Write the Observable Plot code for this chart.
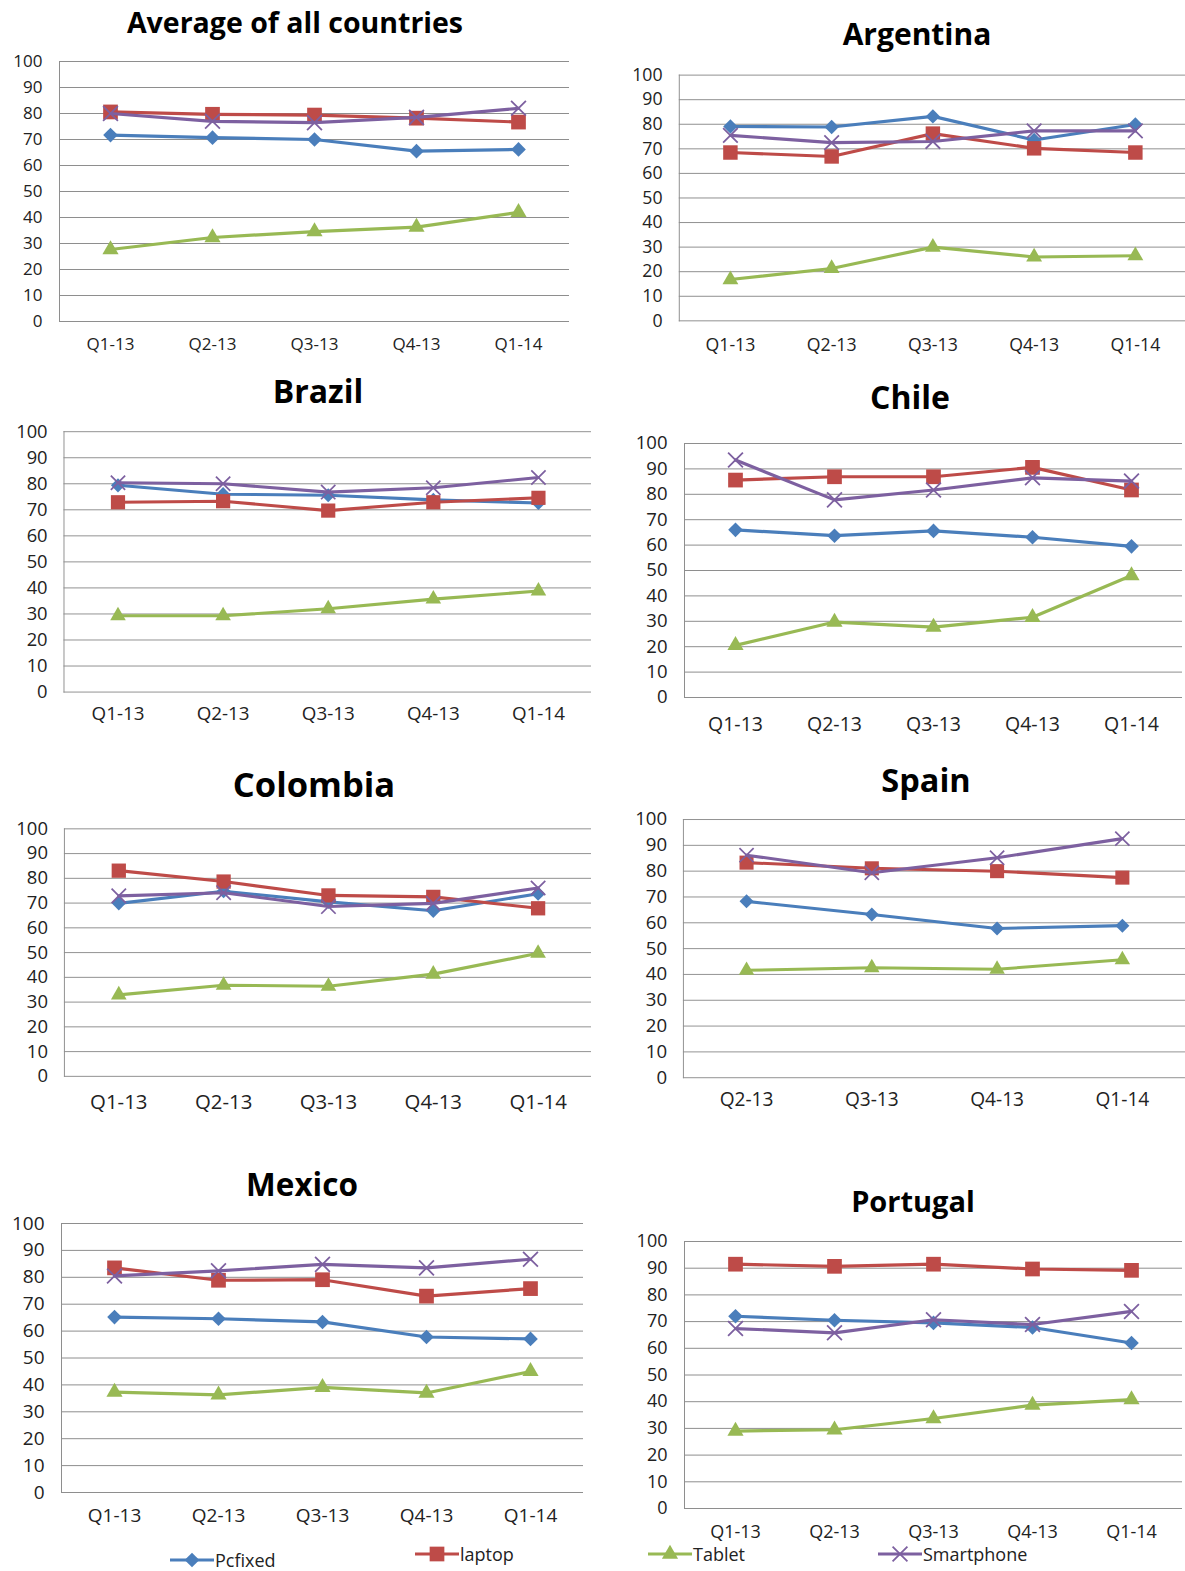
<!DOCTYPE html>
<html><head><meta charset="utf-8">
<script src="https://cdn.jsdelivr.net/npm/d3@7"></script>
<script src="https://cdn.jsdelivr.net/npm/@observablehq/plot@0.6"></script>
<style>
html,body{margin:0;padding:0;background:#fff;}
#page{position:relative;width:1185px;height:1571px;overflow:hidden;font-family:"Open Sans",sans-serif;}
.panel{position:absolute;overflow:hidden;}
.panel svg{display:block;}
.title{position:absolute;transform:translate(-50%,-50%);font-weight:700;white-space:nowrap;color:#000;font-family:"Open Sans",sans-serif;}
.legend-item{position:absolute;display:flex;align-items:center;font-size:18px;color:#222;font-family:"Open Sans",sans-serif;transform:translateY(-50%);}
.legend-item svg{display:block;}
</style></head><body><div id="page"></div>
<script>
// ---------- data ----------
const quarters = ["Q1-13","Q2-13","Q3-13","Q4-13","Q1-14"];
const spainQuarters = ["Q2-13","Q3-13","Q4-13","Q1-14"];
const seriesNames = ["Pcfixed","laptop","Tablet","Smartphone"];
const seriesColors = ["#4a7ebb","#be4b48","#98b954","#7d60a0"];
const panelTitles = ["Average of all countries","Argentina","Brazil","Chile","Colombia","Spain","Mexico","Portugal"];
const yTicks = [0,10,20,30,40,50,60,70,80,90,100];

// one row per panel (same order as panelTitles); Spain has Q2-13..Q1-14 only
const pcfixed = [
  [71.7,70.7,70.0,65.5,66.2],
  [79.1,78.9,83.2,73.6,79.9],
  [79.4,76.0,75.6,73.8,72.6],
  [66.0,63.7,65.6,63.1,59.5],
  [69.9,74.8,70.5,66.9,73.8],
  [68.3,63.2,57.8,58.9],
  [65.2,64.6,63.4,57.8,57.1],
  [72.0,70.5,69.5,67.8,62.0]
];
const laptop = [
  [80.6,79.7,79.4,78.2,76.7],
  [68.5,66.9,76.2,70.2,68.5],
  [72.9,73.3,69.7,72.9,74.6],
  [85.6,86.9,86.9,90.6,81.7],
  [83.1,78.7,73.1,72.5,67.9],
  [83.3,81.1,80.0,77.5],
  [83.5,78.9,79.1,73.0,75.8],
  [91.5,90.7,91.5,89.7,89.2]
];
const tablet = [
  [27.7,32.3,34.6,36.3,42.0],
  [16.8,21.3,30.0,26.0,26.5],
  [29.3,29.3,32.0,35.7,38.8],
  [20.5,29.7,27.7,31.6,48.0],
  [32.9,36.8,36.4,41.3,49.7],
  [41.6,42.6,42.0,45.7],
  [37.3,36.3,39.1,37.0,45.0],
  [29.0,29.5,33.7,38.7,40.8]
];
const smartphone = [
  [80.0,77.0,76.5,78.5,82.0],
  [75.5,72.5,73.0,77.3,77.3],
  [80.4,80.0,76.8,78.5,82.4],
  [93.5,77.8,81.7,86.5,85.2],
  [72.9,74.2,68.6,69.9,76.1],
  [86.2,79.4,85.2,92.6],
  [80.5,82.4,84.8,83.5,86.7],
  [67.4,65.8,70.7,68.9,73.8]
];

// ---------- layout (pixel geometry of each panel in the page) ----------
const layout = [
  {L:59,  R:569,  T:61,  B:321,  clip:1185, fs:17,   xfs:17,   xly:344,  tx:295, ty:22,  ts:28.5},
  {L:680, R:1195, T:75,  B:325,  clip:1185, fs:18,   xfs:18,   xly:349,  tx:917, ty:33,  ts:30},
  {L:66,  R:613,  T:432, B:702,  clip:591,  fs:19,   xfs:19.5, xly:724,  tx:318, ty:390, ts:32},
  {L:684, R:1182, T:443, B:697,  clip:1185, fs:18.5, xfs:19.5, xly:724,  tx:910, ty:396, ts:32},
  {L:66,  R:609,  T:829, B:1084, clip:591,  fs:19,   xfs:21,   xly:1110, tx:314, ty:783, ts:34.5},
  {L:686, R:1211, T:820, B:1090, clip:1185, fs:19.5, xfs:20,   xly:1113, tx:926, ty:779, ts:32.5},
  {L:61,  R:583,  T:1223,B:1492, clip:1185, fs:19,   xfs:19,   xly:1515, tx:302, ty:1183,ts:31.5},
  {L:684, R:1182, T:1241,B:1508, clip:1185, fs:18,   xfs:18,   xly:1531, tx:913, ty:1200,ts:29}
];

const symbols = ["diamond2","square","triangle","times"];
const symR = [6.6,8.3,6.0,6.8];
const seriesData = [pcfixed, laptop, tablet, smartphone];

const page = document.getElementById("page");

panelTitles.forEach((title, p) => {
  const g = layout[p];
  const qs = title === "Spain" ? spainQuarters : quarters;
  const rows = [];
  seriesNames.forEach((s, k) => {
    seriesData[k][p].forEach((v, j) => rows.push({series: s, quarter: qs[j], value: v}));
  });
  const mL = 70, mT = 22, mB = (g.xly - g.B) + 22, mR = 0;
  const width = (g.R - g.L) + mL + mR;
  const height = (g.B - g.T) + mT + mB;
  const marks = [
    Plot.ruleY(yTicks, {y: d => d, stroke: "#8e8e8e", strokeWidth: 1}),
    Plot.frame({anchor: "left", stroke: "#8e8e8e"}),
    Plot.axisY({ticks: yTicks, tickSize: 0, tickPadding: 17, fontSize: g.fs, tickFormat: d => String(d)}),
    Plot.axisX({tickSize: 0, tickPadding: (g.xly - g.B) - g.xfs * 0.36, fontSize: g.xfs})
  ];
  seriesNames.forEach((s, k) => {
    const d = rows.filter(r => r.series === s);
    marks.push(Plot.line(d, {x: "quarter", y: "value", stroke: "series", strokeWidth: 3.2}));
    if (symbols[k] === "times") {
      marks.push(Plot.dot(d, {x: "quarter", y: "value", symbol: "times", stroke: "series", strokeWidth: 1.8, r: symR[k]}));
    } else {
      marks.push(Plot.dot(d, {x: "quarter", y: "value", symbol: symbols[k], fill: "series", stroke: "none", r: symR[k]}));
    }
  });
  const chart = Plot.plot({
    width, height,
    marginLeft: mL, marginRight: mR, marginTop: mT, marginBottom: mB,
    style: {fontFamily: "'Open Sans', sans-serif", color: "#222", background: "transparent", overflow: "visible"},
    x: {type: "point", domain: qs, padding: 0.5, label: null},
    y: {domain: [0, 100], label: null},
    color: {domain: seriesNames, range: seriesColors},
    marks
  });
  const wrap = document.createElement("div");
  wrap.className = "panel";
  wrap.style.left = (g.L - mL) + "px";
  wrap.style.top = (g.T - mT) + "px";
  wrap.style.width = Math.min(width, g.clip - (g.L - mL)) + "px";
  wrap.style.height = height + "px";
  wrap.appendChild(chart);
  page.appendChild(wrap);

  const t = document.createElement("div");
  t.className = "title";
  t.textContent = title;
  t.style.left = g.tx + "px";
  t.style.top = g.ty + "px";
  t.style.fontSize = g.ts + "px";
  page.appendChild(t);
});

// ---------- legend ----------
const legendPos = [{x:170, y:1560},{x:415, y:1554},{x:648, y:1554},{x:878, y:1554}];
const symMap = {diamond2: d3.symbolDiamond2, square: d3.symbolSquare, triangle: d3.symbolTriangle, times: d3.symbolTimes};
seriesNames.forEach((s, k) => {
  const item = document.createElement("div");
  item.className = "legend-item";
  item.style.left = legendPos[k].x + "px";
  item.style.top = legendPos[k].y + "px";
  const svg = d3.create("svg").attr("width", 44).attr("height", 20);
  svg.append("line").attr("x1", 0).attr("x2", 44).attr("y1", 10).attr("y2", 10)
    .attr("stroke", seriesColors[k]).attr("stroke-width", 3.2);
  const size = Math.PI * symR[k] * symR[k];
  const path = svg.append("path").attr("transform", "translate(22,10)")
    .attr("d", d3.symbol(symMap[symbols[k]], size)());
  if (symbols[k] === "times") path.attr("fill", "none").attr("stroke", seriesColors[k]).attr("stroke-width", 1.8);
  else path.attr("fill", seriesColors[k]);
  item.appendChild(svg.node());
  const span = document.createElement("span");
  span.textContent = s;
  span.style.marginLeft = "1px";
  item.appendChild(span);
  page.appendChild(item);
});
</script>
</body></html>
